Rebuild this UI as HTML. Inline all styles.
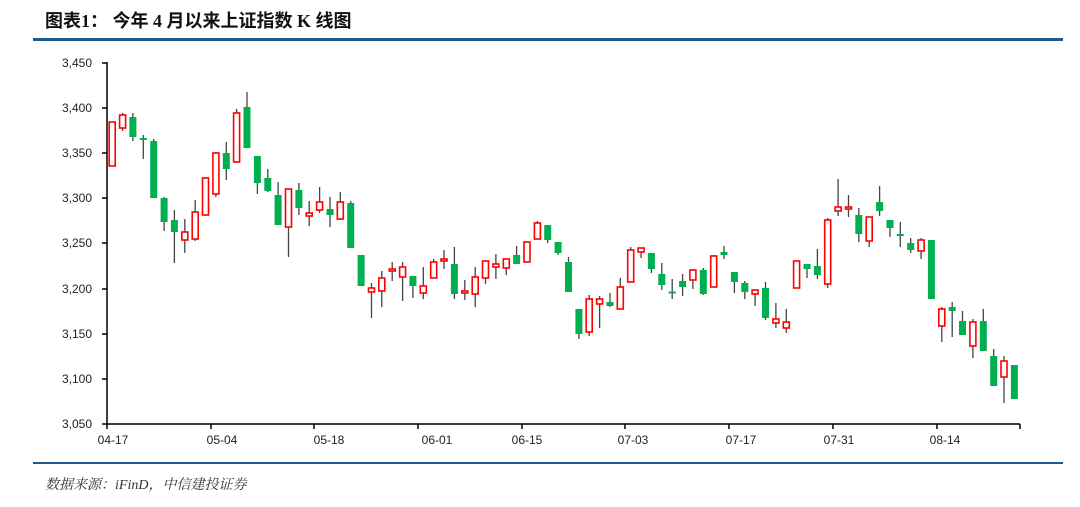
<!DOCTYPE html>
<html><head><meta charset="utf-8"><style>
html,body{margin:0;padding:0;background:#fff;width:1080px;height:507px;overflow:hidden}
svg{display:block}
.t{font-family:"Liberation Serif","Noto Sans CJK SC",sans-serif;font-weight:bold}
.a{font-family:"Liberation Sans","Noto Sans CJK SC",sans-serif;font-size:12px;fill:#222}
.s{font-family:"Liberation Serif","Noto Serif CJK SC",serif;font-style:italic;font-size:14px;fill:#333}
</style></head><body>
<svg width="1080" height="507" viewBox="0 0 1080 507">
<text x="45" y="27" class="t" font-size="18" fill="#111">图表1：  今年 4 月以来上证指数 K 线图</text>
<rect x="33" y="38" width="1030" height="3" fill="#1f5a8c"/>
<rect x="33" y="462" width="1030" height="2" fill="#1f5a8c"/>
<text x="45" y="489" class="s">数据来源：iFinD，中信建投证券</text>

<g stroke="#000" stroke-width="1.5" fill="none">
<path d="M107 62 V424 H1020"/>
<path d="M102 63H107M102 108H107M102 153H107M102 198H107M102 243H107M102 289H107M102 334H107M102 379H107M102 424H107"/>
<path d="M107 424V429M211 424V429M314 424V429M418 424V429M522 424V429M625 424V429M729 424V429M833 424V429M937 424V429M1020 424V429"/>
</g>
<g class="a" text-anchor="end">
<text x="92" y="67">3,450</text><text x="92" y="112">3,400</text><text x="92" y="157">3,350</text><text x="92" y="202">3,300</text><text x="92" y="247">3,250</text><text x="92" y="293">3,200</text><text x="92" y="338">3,150</text><text x="92" y="383">3,100</text><text x="92" y="428">3,050</text>
</g>
<g class="a" text-anchor="middle">
<text x="113" y="444">04-17</text><text x="222" y="444">05-04</text><text x="329" y="444">05-18</text><text x="437" y="444">06-01</text><text x="527" y="444">06-15</text><text x="633" y="444">07-03</text><text x="741" y="444">07-17</text><text x="839" y="444">07-31</text><text x="945" y="444">08-14</text>
</g>

<path stroke="#444" stroke-width="1.3" fill="none" d="
M122.6 113V131M132.9 113V141M143.3 135V159M153.7 139V198M164.1 197V231M174.4 210V263M184.8 219V253M195.2 200V241M205.5 177V215M215.9 152V197M226.3 142V180M236.6 109V162M247 92V148M257.4 156V194M267.8 169V192M278.1 182V225M288.5 189V257M298.9 183V215M309.2 201V226M319.6 187V213M330 197V227M340.3 192V220M350.7 201V248M371.5 283V318M381.8 271V307M392.2 262V281M402.6 262V301M412.9 276V298M423.3 267V299M433.7 259V278M444 250V269M454.4 247V299M464.8 280V300M475.2 267V307M485.5 261V284M495.9 254V279M506.3 259V275M516.6 246V264M537.4 221V239M547.7 225V243M558.1 242V255M568.5 257V292M578.9 309V339M589.2 295V336M599.6 296V328M610 293V307M620.3 278V309M630.7 247V282M641.1 248V258M651.4 253V273M661.8 263V290M672.2 279V299M682.6 274V296M692.9 270V289M703.3 268V295M713.7 255V287M724 246V259M734.4 272V293M744.8 281V299M755.1 290V306M765.5 282V320M775.9 303V328M786.3 309V333M807 264V278M817.4 249V279M827.7 218V288M838.1 179V216M848.5 195V217M858.8 208V242M869.2 217V247M879.6 186V216M890 220V237M900.3 222V247M910.7 238V253M921.1 238V259M941.8 307V342M952.2 302V337M962.5 311V335M972.9 319V358M983.3 309V351M993.7 349V386M1004 356V403"/>

<g fill="#00b050">
<rect x="129.4" y="117" width="7" height="20"/>
<rect x="139.8" y="138" width="7" height="2"/>
<rect x="150.2" y="141" width="7" height="57"/>
<rect x="160.6" y="198" width="7" height="24"/>
<rect x="170.9" y="220" width="7" height="12"/>
<rect x="222.8" y="153" width="7" height="16"/>
<rect x="243.5" y="107" width="7" height="41"/>
<rect x="253.9" y="156" width="7" height="27"/>
<rect x="264.3" y="178" width="7" height="13"/>
<rect x="274.6" y="195" width="7" height="30"/>
<rect x="295.4" y="190" width="7" height="18"/>
<rect x="326.5" y="209" width="7" height="6"/>
<rect x="347.2" y="203" width="7" height="45"/>
<rect x="357.6" y="255" width="7" height="31"/>
<rect x="409.4" y="276" width="7" height="10"/>
<rect x="450.9" y="264" width="7" height="30"/>
<rect x="513.1" y="255" width="7" height="9"/>
<rect x="544.2" y="225" width="7" height="15"/>
<rect x="554.6" y="242" width="7" height="11"/>
<rect x="565" y="262" width="7" height="30"/>
<rect x="575.4" y="309" width="7" height="25"/>
<rect x="606.5" y="302" width="7" height="4"/>
<rect x="647.9" y="253" width="7" height="16"/>
<rect x="658.3" y="274" width="7" height="11"/>
<rect x="668.7" y="291.5" width="7" height="2"/>
<rect x="679.1" y="281" width="7" height="6"/>
<rect x="699.8" y="270" width="7" height="24"/>
<rect x="720.5" y="252" width="7" height="3"/>
<rect x="730.9" y="272" width="7" height="10"/>
<rect x="741.3" y="283" width="7" height="9"/>
<rect x="762" y="288" width="7" height="30"/>
<rect x="803.5" y="264" width="7" height="5"/>
<rect x="813.9" y="266" width="7" height="9"/>
<rect x="855.3" y="215" width="7" height="19"/>
<rect x="876.1" y="202" width="7" height="9"/>
<rect x="886.5" y="220" width="7" height="8"/>
<rect x="896.8" y="234" width="7" height="2"/>
<rect x="907.2" y="243" width="7" height="7"/>
<rect x="927.9" y="240" width="7" height="59"/>
<rect x="948.7" y="307" width="7" height="4"/>
<rect x="959" y="321" width="7" height="14"/>
<rect x="979.8" y="321" width="7" height="30"/>
<rect x="990.2" y="356" width="7" height="30"/>
<rect x="1010.9" y="365" width="7" height="34"/>
</g>

<g fill="#fff" stroke="#ff0000" stroke-width="1.6">
<rect x="109.2" y="122" width="6" height="44"/>
<rect x="119.6" y="115" width="6" height="13"/>
<rect x="181.8" y="232" width="6" height="8"/>
<rect x="192.2" y="212" width="6" height="27"/>
<rect x="202.5" y="178" width="6" height="37"/>
<rect x="212.9" y="153" width="6" height="41"/>
<rect x="233.6" y="113" width="6" height="49"/>
<rect x="285.5" y="189" width="6" height="38"/>
<rect x="306.2" y="213" width="6" height="3"/>
<rect x="316.6" y="202" width="6" height="8"/>
<rect x="337.3" y="202" width="6" height="17"/>
<rect x="368.5" y="288" width="6" height="4"/>
<rect x="378.8" y="278" width="6" height="13"/>
<rect x="389.2" y="269" width="6" height="2"/>
<rect x="399.6" y="267" width="6" height="10"/>
<rect x="420.3" y="286" width="6" height="7"/>
<rect x="430.7" y="262" width="6" height="16"/>
<rect x="441" y="259" width="6" height="2"/>
<rect x="461.8" y="291" width="6" height="2"/>
<rect x="472.2" y="277" width="6" height="17"/>
<rect x="482.5" y="261" width="6" height="17"/>
<rect x="492.9" y="264" width="6" height="3"/>
<rect x="503.3" y="259" width="6" height="9"/>
<rect x="524" y="242" width="6" height="20"/>
<rect x="534.4" y="223" width="6" height="16"/>
<rect x="586.2" y="299" width="6" height="33"/>
<rect x="596.6" y="299" width="6" height="5"/>
<rect x="617.3" y="287" width="6" height="22"/>
<rect x="627.7" y="250" width="6" height="32"/>
<rect x="638.1" y="248" width="6" height="4"/>
<rect x="689.9" y="270" width="6" height="10"/>
<rect x="710.7" y="256" width="6" height="31"/>
<rect x="752.1" y="290" width="6" height="4"/>
<rect x="772.9" y="319" width="6" height="4"/>
<rect x="783.3" y="322" width="6" height="6"/>
<rect x="793.6" y="261" width="6" height="27"/>
<rect x="824.7" y="220" width="6" height="64"/>
<rect x="835.1" y="207" width="6" height="4"/>
<rect x="845.5" y="207" width="6" height="2"/>
<rect x="866.2" y="217" width="6" height="24"/>
<rect x="918.1" y="240" width="6" height="11"/>
<rect x="938.8" y="309" width="6" height="17"/>
<rect x="969.9" y="322" width="6" height="24"/>
<rect x="1001" y="361" width="6" height="16"/>
</g>
</svg>
</body></html>
